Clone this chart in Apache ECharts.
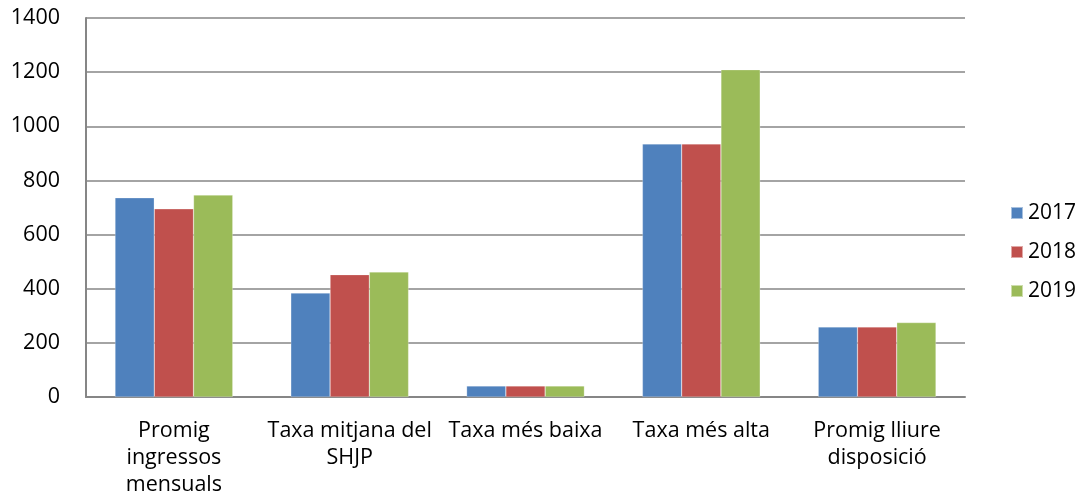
<!DOCTYPE html>
<html>
<head>
<meta charset="utf-8">
<script src="https://cdn.jsdelivr.net/npm/echarts@6/dist/echarts.min.js"></script>
<style>
  html, body { margin: 0; padding: 0; background: #fff; }
  #chart-container { width: 1084px; height: 504px; }
</style>
</head>
<body>
<div id="chart-container"></div>
<script>
var categories = [
  "Promig\ningressos\nmensuals",
  "Taxa mitjana del\nSHJP",
  "Taxa més baixa",
  "Taxa més alta",
  "Promig lliure\ndisposició"
];
var years = ["2017", "2018", "2019"];
var values2017 = [736, 384, 41, 935, 259];
var values2018 = [695, 452, 41, 935, 259];
var values2019 = [746, 462, 41, 1209, 275];
var yTicks = [0, 1400, 200];

var colors = ["#4F81BD", "#C0504D", "#9BBB59"];
var font = "Open Sans";

var dom = document.getElementById("chart-container");
var myChart = echarts.init(dom, null, { renderer: "canvas" });

var seriesData = [values2017, values2018, values2019];

var option = {
  animation: false,
  color: colors,
  grid: { left: 86, right: 119, top: 18, bottom: 107, containLabel: false },
  legend: {
    orient: "vertical",
    left: 1005,
    top: 197,
    itemWidth: 12,
    itemHeight: 12,
    itemGap: 17,
    icon: "rect",
    data: years,
    textStyle: { fontFamily: font, fontSize: 21, color: "#000", lineHeight: 22 }
  },
  xAxis: {
    type: "category",
    data: categories,
    axisLine: { lineStyle: { color: "#868686", width: 2 } },
    axisTick: { show: false },
    axisLabel: {
      interval: 0,
      margin: 20,
      color: "#000",
      fontFamily: font,
      fontSize: 21.5,
      lineHeight: 27
    }
  },
  yAxis: {
    type: "value",
    min: yTicks[0],
    max: yTicks[1],
    interval: yTicks[2],
    axisLine: { show: true, lineStyle: { color: "#868686", width: 2 } },
    axisTick: { show: false },
    splitLine: { lineStyle: { color: "#868686", width: 1.5 } },
    axisLabel: {
      margin: 26,
      color: "#000",
      fontFamily: font,
      fontSize: 21.5,
      formatter: function (v) { return String(v); }
    }
  },
  series: years.map(function (y, i) {
    return {
      name: y,
      type: "bar",
      data: seriesData[i],
      barGap: "0%",
      barCategoryGap: "33%",
      itemStyle: { borderColor: "rgba(255,255,255,0.5)", borderWidth: 0.5 }
    };
  })
};

myChart.setOption(option);
window.addEventListener("resize", myChart.resize);
</script>
</body>
</html>
